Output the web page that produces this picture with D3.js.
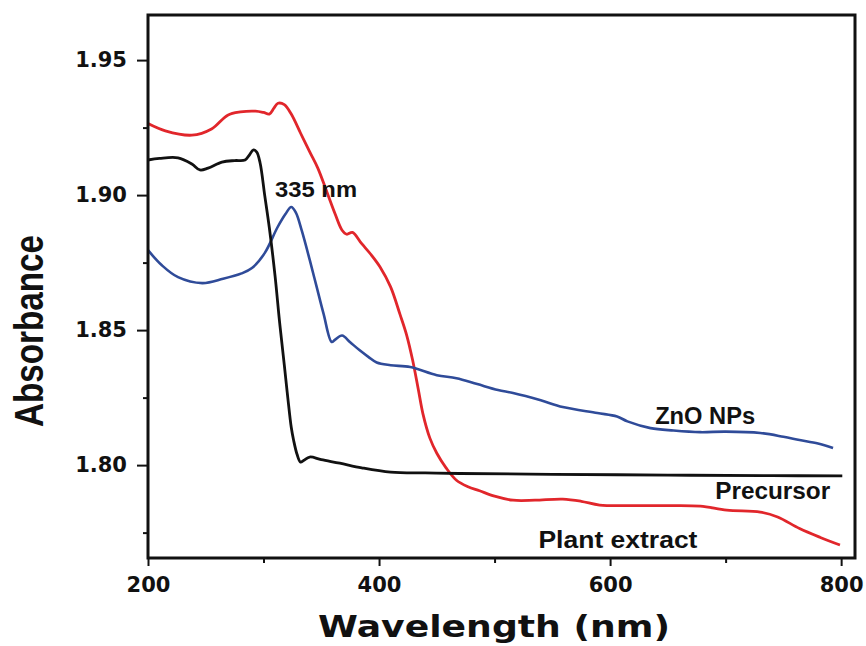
<!DOCTYPE html>
<html>
<head>
<meta charset="utf-8">
<script src="https://cdn.jsdelivr.net/npm/d3@7"></script>
<style>
  body { margin: 0; background: #fff; }
  svg { display: block; }
</style>
</head>
<body>
<script>
// UV-Vis spectra, values
const plantWl = [200, 215, 238, 255, 269, 280, 293, 300, 305, 309, 312.5, 318, 324, 332, 340, 347, 355, 362, 368, 372, 377, 385, 393, 401, 410, 418, 424, 429, 434, 438, 444, 450, 458, 467, 477, 487, 500, 516, 535, 559, 575, 591, 620, 650, 678, 701, 730, 745, 764, 782, 799];
const plantAbs = [1.9265, 1.9238, 1.9222, 1.9245, 1.9296, 1.9308, 1.9311, 1.9306, 1.9300, 1.9322, 1.9340, 1.9335, 1.9300, 1.9230, 1.9160, 1.9100, 1.9010, 1.8930, 1.8870, 1.8855, 1.8862, 1.8820, 1.8780, 1.8733, 1.8660, 1.8560, 1.8480, 1.8390, 1.8280, 1.8190, 1.8100, 1.8044, 1.7990, 1.7944, 1.7920, 1.7905, 1.7885, 1.7870, 1.7870, 1.7874, 1.7866, 1.7852, 1.7850, 1.7850, 1.7848, 1.7833, 1.7826, 1.7808, 1.7765, 1.7732, 1.7704];

const precWl = [200, 210, 226, 238, 245, 252, 264, 275, 284, 288, 291, 294, 297, 301, 305, 310, 314, 318, 321, 324, 326, 329, 332, 335, 340, 350, 366, 385, 410, 440, 470, 550, 650, 740, 801];
const precAbs = [1.9130, 1.9136, 1.9138, 1.9115, 1.9093, 1.9100, 1.9122, 1.9128, 1.9130, 1.9150, 1.9167, 1.9160, 1.9120, 1.9000, 1.8880, 1.8700, 1.8526, 1.8370, 1.8250, 1.8140, 1.8093, 1.8040, 1.8011, 1.8018, 1.8030, 1.8020, 1.8007, 1.7990, 1.7974, 1.7971, 1.7969, 1.7966, 1.7963, 1.7961, 1.7960];

const znoWl = [200, 212, 226, 247, 265, 281, 290, 301, 312, 319, 324, 328, 333, 340, 346, 352, 359, 362, 368, 375, 383, 391, 398, 410, 427, 450, 467, 485, 503, 516, 540, 559, 589, 606, 615, 635, 655, 678, 700, 730, 750, 764, 780, 793];
const znoAbs = [1.8796, 1.8740, 1.8696, 1.8674, 1.8690, 1.8710, 1.8730, 1.8785, 1.8880, 1.8930, 1.8956, 1.8935, 1.8870, 1.8760, 1.8660, 1.8560, 1.8456, 1.8465, 1.8480, 1.8455, 1.8426, 1.8400, 1.8380, 1.8370, 1.8363, 1.8333, 1.8322, 1.8300, 1.8278, 1.8267, 1.8240, 1.8215, 1.8193, 1.8180, 1.8162, 1.8137, 1.8128, 1.8122, 1.8124, 1.8119, 1.8105, 1.8093, 1.8080, 1.8063];

const xTicks = [200, 400, 600, 800];
const xMinor = [300, 500, 700];
const yTicks = [1.80, 1.85, 1.90, 1.95];
const yMinor = [1.775, 1.825, 1.875, 1.925];

// label text with anchor position in data units
const labelText = ["335 nm", "ZnO NPs", "Precursor", "Plant extract"];
const labelWl = [310, 639, 691, 538];
const labelAbs = [1.8993, 1.8152, 1.7874, 1.7693];

const width = 866;
const height = 646;
const plot = { left: 148, right: 855, top: 15, bottom: 558 };

const svg = d3.select('body')
  .append('svg')
  .attr('width', width)
  .attr('height', height)
  .style('background-color', 'white');

const xScale = d3.scaleLinear()
  .domain([200, 812])
  .range([plot.left, plot.right]);

const yScale = d3.scaleLinear()
  .domain([1.7656, 1.9667])
  .range([plot.bottom, plot.top]);

const series = [
  { wl: plantWl, abs: plantAbs, color: '#e1262b', w: 2.8 },
  { wl: znoWl, abs: znoAbs, color: '#2f4b99', w: 2.6 },
  { wl: precWl, abs: precAbs, color: '#111111', w: 2.8 }
];

const line = d3.line()
  .x(d => xScale(d[0]))
  .y(d => yScale(d[1]))
  .curve(d3.curveCatmullRom.alpha(0.5));

svg.selectAll('.curve')
  .data(series)
  .enter()
  .append('path')
  .attr('class', 'curve')
  .attr('d', s => line(s.wl.map((w, i) => [w, s.abs[i]])))
  .attr('fill', 'none')
  .attr('stroke', s => s.color)
  .attr('stroke-width', s => s.w)
  .attr('stroke-linejoin', 'round');

// frame
svg.append('rect')
  .attr('x', plot.left)
  .attr('y', plot.top)
  .attr('width', plot.right - plot.left)
  .attr('height', plot.bottom - plot.top)
  .attr('fill', 'none')
  .attr('stroke', '#111')
  .attr('stroke-width', 3);

const tickFont = g => g.selectAll('text')
  .style('font-family', '"DejaVu Sans", sans-serif')
  .style('font-weight', 'bold')
  .style('font-size', '21px')
  .attr('fill', '#111');

const xAxis = d3.axisBottom(xScale)
  .tickValues(xTicks)
  .tickSize(8)
  .tickSizeOuter(0)
  .tickPadding(11)
  .tickFormat(d3.format('d'));

const xMinorAxis = d3.axisBottom(xScale)
  .tickValues(xMinor)
  .tickSize(5)
  .tickSizeOuter(0)
  .tickFormat('');

const yAxis = d3.axisLeft(yScale)
  .tickValues(yTicks)
  .tickSize(11)
  .tickSizeOuter(0)
  .tickPadding(10)
  .tickFormat(d3.format('.2f'));

const yMinorAxis = d3.axisLeft(yScale)
  .tickValues(yMinor)
  .tickSize(5)
  .tickSizeOuter(0)
  .tickFormat('');

[xAxis, xMinorAxis].forEach(ax => {
  svg.append('g')
    .attr('transform', `translate(0,${plot.bottom})`)
    .call(ax)
    .call(g => g.select('.domain').remove())
    .call(g => g.selectAll('line').attr('stroke', '#111').attr('stroke-width', 2))
    .call(tickFont);
});

[yAxis, yMinorAxis].forEach(ax => {
  svg.append('g')
    .attr('transform', `translate(${plot.left},0)`)
    .call(ax)
    .call(g => g.select('.domain').remove())
    .call(g => g.selectAll('line').attr('stroke', '#111').attr('stroke-width', 2))
    .call(tickFont);
});

// axis titles
svg.append('text')
  .text('Wavelength (nm)')
  .attr('x', 318)
  .attr('y', 637)
  .attr('textLength', 352)
  .attr('lengthAdjust', 'spacingAndGlyphs')
  .style('font-family', '"DejaVu Sans", sans-serif')
  .style('font-weight', 'bold')
  .style('font-size', '31px')
  .attr('fill', '#111');

svg.append('text')
  .text('Absorbance')
  .attr('transform', `translate(43,427)rotate(-90)`)
  .attr('textLength', 192)
  .attr('lengthAdjust', 'spacingAndGlyphs')
  .style('font-family', '"Liberation Sans", Arial, sans-serif')
  .style('font-weight', 'bold')
  .style('font-size', '41px')
  .attr('fill', '#111');

// curve labels
const labelLen = [82, 100, 115, 159];
svg.selectAll('.curve-label')
  .data(labelText)
  .enter()
  .append('text')
  .attr('class', 'curve-label')
  .text(d => d)
  .attr('x', (d, i) => xScale(labelWl[i]))
  .attr('y', (d, i) => yScale(labelAbs[i]))
  .attr('textLength', (d, i) => labelLen[i])
  .attr('lengthAdjust', 'spacingAndGlyphs')
  .style('font-family', '"Liberation Sans", Arial, sans-serif')
  .style('font-weight', 'bold')
  .style('font-size', (d, i) => i === 0 ? '22px' : '23px')
  .attr('fill', '#111');
</script>
</body>
</html>
